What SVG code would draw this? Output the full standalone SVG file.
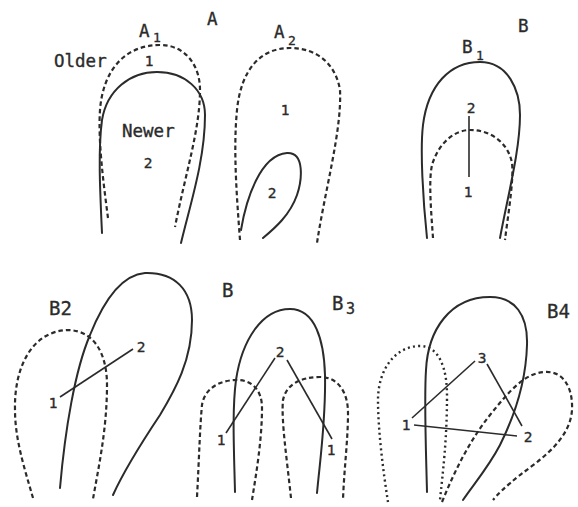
<svg xmlns="http://www.w3.org/2000/svg" width="578" height="507" viewBox="0 0 578 507">
<style>
.s{fill:none;stroke:#2b2b2b;stroke-width:2;stroke-linecap:round}
.d{fill:none;stroke:#2b2b2b;stroke-width:2.2;stroke-dasharray:4.5 3}
.o{fill:none;stroke:#2b2b2b;stroke-width:2.4;stroke-dasharray:2 3.2}
.ln{fill:none;stroke:#2b2b2b;stroke-width:1.6}
text{font-family:"DejaVu Sans Mono","Liberation Mono",monospace;fill:#2b2b2b;stroke:#2b2b2b;stroke-width:0.35}
.t{font-size:17.5px}
.n{font-size:14.5px;text-anchor:middle}
.sub{font-size:13px}
</style>
<rect width="578" height="507" fill="#ffffff"/>
<g id="panel-labels">
<text class="t" x="207" y="25">A</text>
<text class="t" x="518" y="32">B</text>
<text class="t" x="222" y="297" style="font-size:19px">B</text>
</g>
<g id="A1">
<text class="t" x="139" y="37">A</text>
<text class="sub" x="153" y="42">1</text>
<text class="t" x="54" y="67">Older</text>
<text class="n" x="149" y="66">1</text>
<text class="t" x="122" y="137">Newer</text>
<text class="n" x="148" y="168">2</text>
<path class="d" d="M108,218 C103,180 98,140 100,110 C103,70 125,45 160,45 C185,45 200,65 200,90 C200,130 185,175 175,227"/>
<path class="s" d="M102,233 C100,190 98,150 102,120 C107,90 130,72 157,72 C185,72 205,90 205,115 C205,160 190,205 181,243"/>
</g>
<g id="A2">
<text class="t" x="274" y="38">A</text>
<text class="sub" x="288" y="45">2</text>
<text class="n" x="285" y="115">1</text>
<text class="n" x="272" y="198">2</text>
<path class="d" d="M240,240 C237,200 233,150 237,110 C241,70 260,48 290,48 C318,48 336,65 340,90 C342,130 325,190 317,243"/>
<path class="s" d="M241,230 C246,200 260,155 287,153 C305,152 302,180 297,195 C290,215 275,228 263,238"/>
</g>
<g id="B1">
<text class="t" x="462" y="53">B</text>
<text class="sub" x="476" y="60">1</text>
<text class="n" x="471" y="113">2</text>
<text class="n" x="468" y="197">1</text>
<path class="s" d="M427,238 C423,200 420,150 423,125 C428,85 450,62 480,62 C508,62 520,90 520,115 C520,150 508,195 500,238"/>
<path class="d" d="M433,238 C431,210 428,175 433,162 C440,142 455,130 470,130 C490,130 508,142 512,163 C514,180 508,215 505,240"/>
</g>
<g id="B2">
<text class="t" x="49" y="315" style="font-size:19px">B2</text>
<text class="n" x="141" y="352">2</text>
<text class="n" x="53" y="408">1</text>
<path class="d" d="M33,498 C25,470 15,440 15,410 C14,370 30,332 67,330 C95,330 107,355 107,385 C107,430 98,470 93,499"/>
<path class="s" d="M60,488 C65,430 75,370 90,335 C102,305 120,275 145,273 C175,272 192,290 192,320 C192,360 175,390 160,415 C140,445 122,475 113,495"/>
</g>
<g id="B3">
<text class="t" x="332" y="310" style="font-size:19px">B</text>
<text class="sub" x="346" y="314" style="font-size:15px">3</text>
<text class="n" x="280" y="357">2</text>
<text class="n" x="221" y="445">1</text>
<text class="n" x="331" y="455">1</text>
<path class="s" d="M235,492 C234,450 232,410 236,380 C242,340 262,309 290,309 C315,309 324,340 325,375 C326,420 320,460 317,493"/>
<path class="d" d="M197,497 C199,460 200,425 202,405 C204,390 218,380 237,380 C252,380 262,390 262,408 C262,440 256,475 252,500"/>
<path class="d" d="M291,498 C287,460 281,420 283,400 C286,385 300,377 320,377 C338,377 348,392 348,413 C348,440 344,470 343,500"/>
</g>
<g id="B4">
<text class="t" x="547" y="318" style="font-size:19px">B4</text>
<text class="n" x="482" y="363">3</text>
<text class="n" x="406" y="430">1</text>
<text class="n" x="528" y="442">2</text>
<path class="s" d="M427,492 C426,450 424,400 426,370 C428,330 450,297 490,297 C515,297 528,315 527,345 C526,380 515,415 500,445 C488,468 473,485 463,500"/>
<path class="o" d="M388,502 C383,470 378,430 378,400 C378,370 395,346 420,346 C440,346 447,370 447,395 C447,440 443,470 440,500"/>
<path class="d" d="M442,502 C455,470 470,440 490,415 C510,390 525,373 545,372 C565,371 573,390 572,410 C570,440 540,460 520,475 C505,487 497,495 493,500"/>
</g>
<g id="connectors">
<line class="ln" x1="469" y1="116" x2="469" y2="177"/>
<line class="ln" x1="60" y1="397" x2="133" y2="349"/>
<line class="ln" x1="275" y1="358" x2="226" y2="433"/>
<line class="ln" x1="287" y1="360" x2="332" y2="439"/>
<line class="ln" x1="412" y1="418" x2="475" y2="361"/>
<line class="ln" x1="487" y1="364" x2="522" y2="426"/>
<line class="ln" x1="414" y1="425" x2="517" y2="436"/>
</g>
</svg>
